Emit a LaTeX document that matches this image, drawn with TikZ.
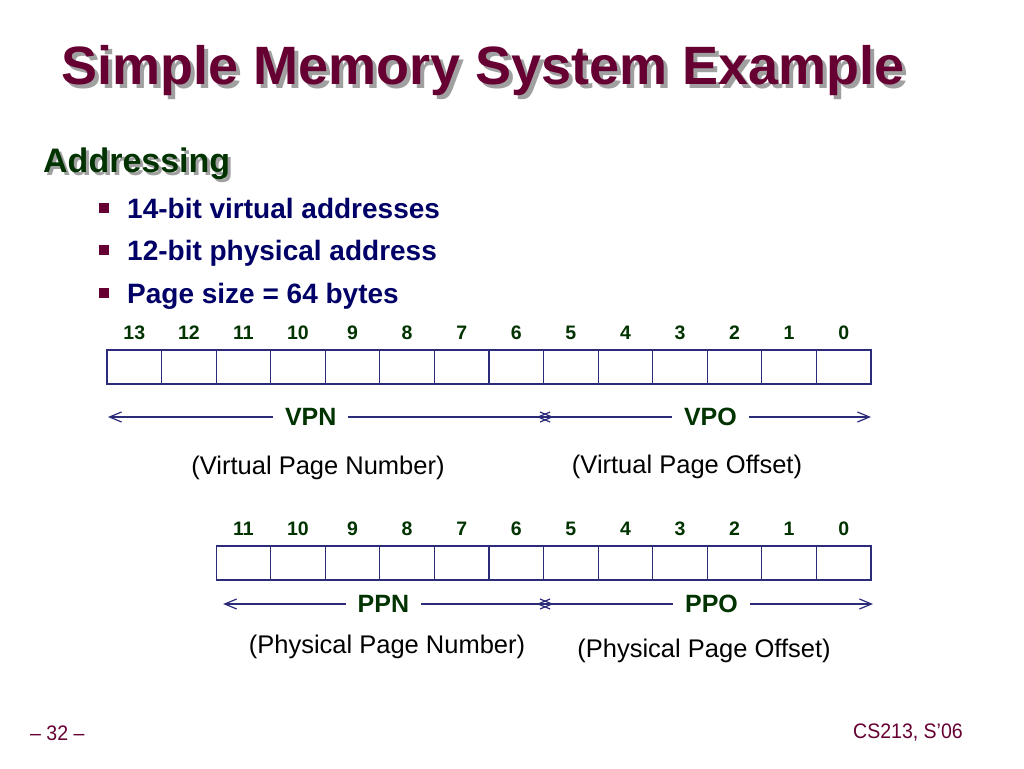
\documentclass[tikz,border=0pt]{standalone}
\usepackage{fontspec}
\setmainfont{Liberation Sans}
\usetikzlibrary{calc,arrows.meta}
\definecolor{titlered}{HTML}{660033}
\definecolor{headgreen}{HTML}{003300}
\definecolor{bodyblue}{HTML}{000066}
\definecolor{cellblue}{HTML}{2B2B7A}
\definecolor{shadowgray}{HTML}{A0A0A0}
\tikzset{
  cell/.style={draw=cellblue,line width=1.1pt,minimum width=54.57pt,minimum height=34pt,inner sep=0pt,outer sep=0pt},
  bitnum/.style={text=headgreen,font=\fontsize{19.5}{21}\selectfont\bfseries},
  field/.style={text=headgreen,font=\fontsize{25}{27}\selectfont\bfseries,fill=white,inner xsep=12pt},
  note/.style={text=black,font=\fontsize{25.5}{27}\selectfont},
  span/.style={draw=cellblue,line width=1.2pt,{Straight Barb[length=12pt,width=10pt]}-{Straight Barb[length=12pt,width=10pt]}},
  bullet/.style={fill=titlered,minimum size=10pt,inner sep=0pt},
  item/.style={anchor=base west,text=bodyblue,font=\fontsize{28}{30}\selectfont\bfseries,inner sep=0pt}
}
\begin{document}
\begin{tikzpicture}[x=1pt,y=-1pt]
\useasboundingbox (0,0) rectangle (1024,768);
% title and heading
\node[anchor=base west,inner sep=0pt,text=shadowgray,font=\fontsize{54}{56}\selectfont\bfseries] (titleshadow) at (65,88) {Simple Memory System Example};
\node[anchor=base west,inner sep=0pt,text=titlered,font=\fontsize{54}{56}\selectfont\bfseries] (title) at (61,84) {Simple Memory System Example};
\node[anchor=base west,inner sep=0pt,text=shadowgray,font=\fontsize{34}{36}\selectfont\bfseries] (headshadow) at (46,175) {Addressing};
\node[anchor=base west,inner sep=0pt,text=headgreen,font=\fontsize{34}{36}\selectfont\bfseries] (head) at (43,172) {Addressing};
% bullets
\node[bullet] (b1) at (104,208) {};
\node[bullet] (b2) at (104,250) {};
\node[bullet] (b3) at (104,293) {};
\node[item] (t1) at (127,218) {14-bit virtual addresses};
\node[item] (t2) at (127,260) {12-bit physical address};
\node[item] (t3) at (127,303) {Page size = 64 bytes};
% virtual address
\foreach \i in {0,...,13} {
  \node[cell] (v\i) at ({107+(13.5-\i)*54.57},367) {};
  \node[bitnum] at ($(v\i.north)+(0,-17)$) {\i};
}
\coordinate (vpnl) at ($(v13.south west)+(1,33)$);
\coordinate (vmid) at ($(v6.south east)+(0,33)$);
\coordinate (vpor) at ($(v0.south east)+(0,33)$);
\draw[span] (vpnl) -- node[field,pos=0.455] {VPN} ($(vmid)+(10,0)$);
\draw[span] ($(vmid)+(-7,0)$) -- node[field,pos=0.52] {VPO} (vpor);
\node[note] (vpnnote) at (318,468) {(Virtual Page Number)};
\node[note] (vponote) at (687,467) {(Virtual Page Offset)};
% physical address
\foreach \i in {0,...,11} {
  \node[cell] (p\i) at ({107+(13.5-\i)*54.57},563) {};
  \node[bitnum] at ($(p\i.north)+(0,-17)$) {\i};
}
\coordinate (ppnl) at ($(p11.south west)+(7,24)$);
\coordinate (pmid) at ($(p6.south east)+(0,24)$);
\coordinate (ppor) at ($(p0.south east)+(2,24)$);
\draw[span] (ppnl) -- node[field,pos=0.485] {PPN} ($(pmid)+(10,0)$);
\draw[span] ($(pmid)+(-7,0)$) -- node[field,pos=0.52] {PPO} (ppor);
\node[note] (ppnnote) at (387,647) {(Physical Page Number)};
\node[note] (pponote) at (704,651) {(Physical Page Offset)};
% footer
\node[anchor=base west,inner sep=0pt,text=titlered,font=\fontsize{21}{23}\selectfont,xscale=0.93] (page) at (30,740) {– 32 –};
\node[anchor=base east,inner sep=0pt,text=titlered,font=\fontsize{21}{23}\selectfont,xscale=0.93] (course) at (963,738) {CS213, S’06};
\end{tikzpicture}
\end{document}
